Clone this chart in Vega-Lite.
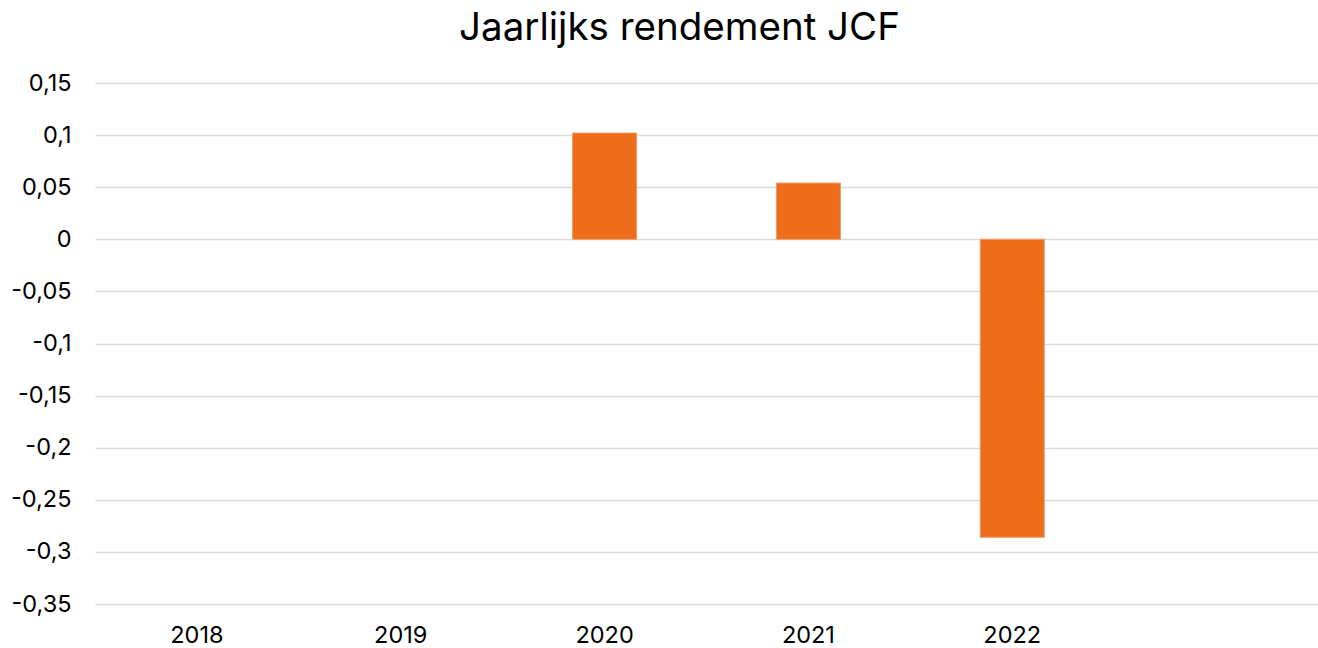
{
  "$schema": "https://vega.github.io/schema/vega-lite/v6.json",
  "autosize": {"type": "none"},
  "width": 1223,
  "height": 521,
  "padding": {"left": 95, "top": 83, "right": 0, "bottom": 44},
  "background": "white",
  "title": {
    "text": "Jaarlijks rendement JCF",
    "font": "Inter",
    "fontSize": 38.5,
    "fontWeight": "normal",
    "color": "#000000",
    "anchor": "middle",
    "frame": "group",
    "baseline": "alphabetic",
    "offset": 30,
    "dy": 37,
    "dx": -27
  },
  "data": {
    "values": [
      {"jaar": "2020", "rendement": 0.102},
      {"jaar": "2021", "rendement": 0.054},
      {"jaar": "2022", "rendement": -0.286}
    ]
  },
  "mark": {"type": "bar", "color": "#ED6D1A", "stroke": "#F29A66", "strokeWidth": 1},
  "encoding": {
    "x": {
      "field": "jaar",
      "type": "nominal",
      "title": null,
      "scale": {"domain": ["2018", "2019", "2020", "2021", "2022", ""], "paddingInner": 0.686, "paddingOuter": 0.343},
      "axis": {
        "labelAngle": 0,
        "labelFont": "Inter",
        "labelFontSize": 23.5,
        "labelColor": "#000000",
        "labelPadding": 19,
        "domain": false,
        "ticks": false,
        "grid": false
      }
    },
    "y": {
      "field": "rendement",
      "type": "quantitative",
      "title": null,
      "scale": {"domain": [-0.35, 0.15], "nice": false, "zero": false},
      "axis": {
        "values": [-0.35, -0.3, -0.25, -0.2, -0.15, -0.1, -0.05, 0, 0.05, 0.1, 0.15],
        "labelExpr": "replace(datum.value + '', '.', ',')",
        "labelFont": "Inter",
        "labelFontSize": 23.5,
        "labelColor": "#000000",
        "labelPadding": 24,
        "domain": false,
        "ticks": false,
        "grid": true,
        "gridColor": "#D9D9D9",
        "gridWidth": 1.5
      }
    }
  },
  "config": {"view": {"stroke": null}}
}
